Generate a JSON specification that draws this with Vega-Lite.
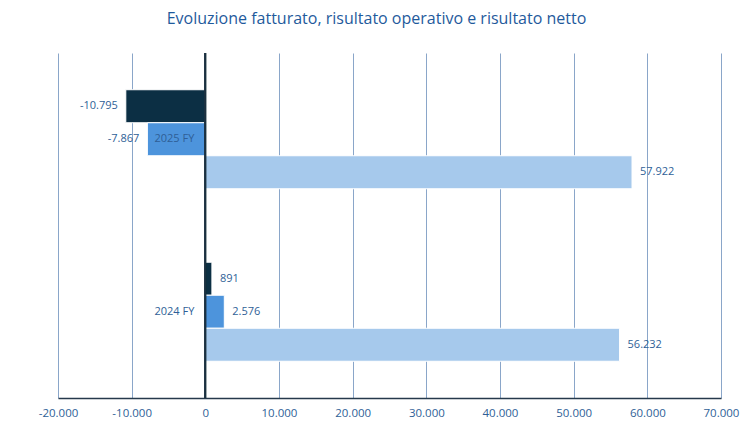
{
  "$schema": "https://vega.github.io/schema/vega-lite/v6.json",
  "autosize": {"type": "none"},
  "padding": {"left": 58, "top": 53, "right": 32, "bottom": 28},
  "width": 663,
  "height": 345,
  "title": {
    "text": "Evoluzione fatturato, risultato operativo e risultato netto",
    "font": "Open Sans",
    "fontSize": 16,
    "fontWeight": "normal",
    "color": "#1f5a9c",
    "anchor": "middle",
    "dx": -13,
    "offset": 25
  },
  "data": {
    "values": [
      {"periodo": "2025 FY", "serie": "Risultato netto", "valore": -10795},
      {"periodo": "2025 FY", "serie": "Risultato operativo", "valore": -7867},
      {"periodo": "2025 FY", "serie": "Fatturato", "valore": 57922},
      {"periodo": "2024 FY", "serie": "Risultato netto", "valore": 891},
      {"periodo": "2024 FY", "serie": "Risultato operativo", "valore": 2576},
      {"periodo": "2024 FY", "serie": "Fatturato", "valore": 56232}
    ]
  },
  "encoding": {
    "y": {
      "field": "periodo",
      "type": "nominal",
      "sort": ["2025 FY", "2024 FY"],
      "scale": {"paddingInner": 0.426, "paddingOuter": 0.213},
      "axis": null
    },
    "x": {
      "field": "valore",
      "type": "quantitative",
      "scale": {"domain": [-20000, 70000], "nice": false, "zero": false},
      "axis": {
        "title": null,
        "values": [-20000, -10000, 0, 10000, 20000, 30000, 40000, 50000, 60000, 70000],
        "format": ",.0f",
        "grid": true,
        "gridColor": "#8aa6c9",
        "gridWidth": 1,
        "ticks": false,
        "domainColor": "#26394b",
        "domainWidth": 1.5,
        "labelColor": "#2f5f97",
        "labelFont": "Open Sans",
        "labelFontSize": 11.5,
        "labelPadding": 9,
        "labelFlush": false,
        "labelOverlap": false
      }
    }
  },
  "layer": [
    {
      "mark": {"type": "bar", "stroke": "#ffffff", "strokeWidth": 1},
      "encoding": {
        "yOffset": {
          "field": "serie",
          "type": "nominal",
          "sort": ["Risultato netto", "Risultato operativo", "Fatturato"]
        },
        "color": {
          "field": "serie",
          "type": "nominal",
          "scale": {
            "domain": ["Risultato netto", "Risultato operativo", "Fatturato"],
            "range": ["#0c2f44", "#4d94dc", "#a6c9ec"]
          },
          "legend": null
        }
      }
    },
    {
      "transform": [{"filter": "datum.valore >= 0"}],
      "mark": {"type": "text", "align": "left", "dx": 8, "font": "Open Sans", "fontSize": 11, "color": "#2f5f97"},
      "encoding": {
        "yOffset": {
          "field": "serie",
          "type": "nominal",
          "sort": ["Risultato netto", "Risultato operativo", "Fatturato"]
        },
        "text": {"field": "valore", "type": "quantitative", "format": ",.0f"}
      }
    },
    {
      "transform": [{"filter": "datum.valore < 0"}],
      "mark": {"type": "text", "align": "right", "dx": -8, "font": "Open Sans", "fontSize": 11, "color": "#2f5f97"},
      "encoding": {
        "yOffset": {
          "field": "serie",
          "type": "nominal",
          "sort": ["Risultato netto", "Risultato operativo", "Fatturato"]
        },
        "text": {"field": "valore", "type": "quantitative", "format": ",.0f"}
      }
    },
    {
      "transform": [{"filter": "datum.serie == 'Risultato operativo'"}],
      "mark": {"type": "text", "align": "right", "dx": -11, "font": "Open Sans", "fontSize": 11, "color": "#2f5f97"},
      "encoding": {
        "x": {"datum": 0},
        "text": {"field": "periodo", "type": "nominal"}
      }
    },
    {
      "mark": {"type": "rule", "color": "#1b3040", "strokeWidth": 1.5},
      "encoding": {"x": {"datum": 0}, "y": {"value": 0}, "y2": {"value": 345}}
    }
  ],
  "config": {
    "view": {"stroke": null},
    "locale": {
      "number": {
        "decimal": ",",
        "thousands": ".",
        "grouping": [3],
        "currency": ["", " €"],
        "minus": "-"
      }
    }
  }
}
